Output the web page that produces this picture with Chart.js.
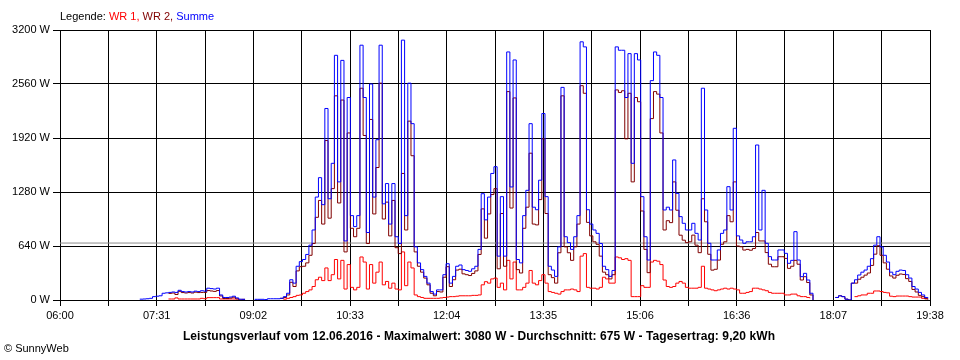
<!DOCTYPE html>
<html><head><meta charset="utf-8">
<script src="https://cdn.jsdelivr.net/npm/chart.js@4"></script>
<style>
html,body{margin:0;padding:0;background:#fff;}
#wrap{position:relative;width:960px;height:360px;overflow:hidden;}
canvas{position:absolute;left:0;top:0;}
.t{position:absolute;font-family:"Liberation Sans",Arial,sans-serif;font-size:11px;white-space:nowrap;line-height:13px;color:#000;}
</style></head><body>
<div id="wrap">
<canvas id="c" width="960" height="360"></canvas>
<div class="t" style="left:60px;top:10px">Legende: <span style="color:#ff0000">WR 1,</span> <span style="color:#800000">WR 2,</span> <span style="color:#0000ff">Summe</span></div>
<div class="t" style="left:0;width:958px;text-align:center;top:329px;font-size:12px;line-height:14px;letter-spacing:0.09px;font-weight:bold">Leistungsverlauf vom 12.06.2016 - Maximalwert: 3080 W - Durchschnitt: 675 W - Tagesertrag: 9,20 kWh</div>
<div class="t" style="left:4px;top:342px">© SunnyWeb</div>
</div>
<script>
// time axis: minutes after 06:00
const startMin = 75;   // first sample 07:15
const stepMin = 3;     // sample spacing in minutes
const axisMaxMin = 818; // 06:00 .. 19:38
const xTickLabels = ['06:00','07:31','09:02','10:33','12:04','13:35','15:06','16:36','18:07','19:38'];
const yTicks = [0,640,1280,1920,2560,3200];
const avgW = 675;

const summe = [
10,12,15,20,40,45,50,80,85,90,
95,90,115,100,95,100,95,105,100,110,
105,140,135,130,140,60,30,30,35,45,
25,10,8,8,null,null,8,8,8,5,
15,15,15,15,20,40,80,240,200,400,
455,480,540,650,830,1220,1450,1130,2270,1200,
1620,2900,1400,2840,700,2400,1000,870,1000,3020,
2400,800,2560,1220,1900,3020,1140,1380,900,1380,
750,670,3080,1000,2570,2090,630,440,360,280,
200,100,70,120,120,300,430,200,280,400,
415,360,350,340,370,400,600,1260,950,1220,
1500,1580,520,1225,520,2940,1340,2845,480,440,
1000,1300,2090,1100,1070,1420,2210,1225,400,355,
280,630,2520,750,680,600,750,1000,3060,3000,
1070,900,830,790,670,400,360,280,350,3000,
2960,2960,2400,2920,1620,2920,2845,1225,750,474,
2600,2940,2900,2400,1067,1100,1067,1660,1264,988,
909,830,830,909,790,711,2510,1067,672,474,
474,593,790,830,1343,1067,2035,760,711,672,
690,690,750,1837,830,1300,672,514,474,474,
593,593,553,435,470,810,474,277,316,237,
80,0,null,null,null,null,null,null,30,50,
40,10,0,200,240,296,330,355,400,490,
650,750,630,530,450,330,300,340,355,350,
300,260,160,130,90,60,30,20];

const wr1 = [
null,null,null,null,null,null,null,null,null,12,
12,25,12,12,12,12,12,12,12,20,
15,28,28,28,28,12,12,12,12,12,
12,8,null,null,null,null,null,null,null,null,
null,null,null,null,null,10,20,30,40,55,
60,80,100,120,160,240,270,230,380,230,
300,480,250,470,130,420,150,120,150,510,
450,130,420,200,330,450,180,220,140,200,
130,120,570,170,450,380,60,40,30,20,
20,20,20,20,25,30,35,40,40,45,
50,50,50,50,55,55,60,180,217,200,
250,260,150,200,120,470,250,450,120,120,
150,200,350,200,180,230,300,200,100,90,
80,70,100,120,120,130,120,100,520,550,
150,140,140,130,150,270,250,200,200,510,
500,480,490,470,40,40,40,170,150,150,
450,470,460,420,237,160,150,160,200,220,
200,150,140,140,140,150,400,140,130,120,
110,120,130,140,130,140,130,120,80,80,
90,100,140,140,130,120,110,90,80,80,
80,80,60,60,70,70,50,40,40,30,
20,null,null,null,null,null,null,null,null,null,
null,null,null,null,40,50,60,60,80,80,
107,107,100,90,85,45,40,47,47,47,
47,40,35,35,35,20,15,15];

const wr2 = [
null,null,null,null,null,null,null,null,null,78,
83,65,103,88,83,88,83,93,88,90,
90,112,107,102,112,48,18,18,23,33,
13,2,8,8,null,null,null,null,null,null,
null,null,null,null,20,30,60,210,160,345,
395,400,440,530,670,980,1180,900,1890,970,
1320,2420,1150,2370,570,1980,850,750,850,2510,
1950,670,2140,1020,1570,2570,960,1160,760,1180,
620,550,1500,830,2120,1710,570,400,330,260,
180,80,50,100,95,270,395,160,240,355,
365,310,300,290,315,345,540,1080,733,1020,
1250,1320,370,1025,400,2470,1090,2395,360,320,
850,1100,1740,900,890,1190,1910,1025,300,265,
200,560,2420,630,560,470,630,900,2540,2450,
920,760,690,660,520,330,300,250,300,2490,
2460,2480,1910,2450,1400,2400,2350,1055,600,324,
2150,2470,2440,1980,830,940,917,1400,1064,768,
709,680,690,769,650,561,1200,927,542,354,
364,473,660,690,1000,927,1400,640,631,592,
600,590,610,800,700,700,562,424,394,394,
513,513,493,375,400,470,424,237,276,207,
60,0,null,null,null,null,null,null,30,50,
40,10,0,200,200,246,270,295,320,410,
543,643,530,440,365,285,260,293,308,303,
253,220,125,95,55,40,15,5];

const pts = arr => arr.map((v,i)=>({x:startMin+i*stepMin, y:v}));
const lineDs = (label, arr, color) => ({
  label, data: pts(arr), borderColor: color, backgroundColor: color,
  borderWidth: 1, pointRadius: 0, stepped: true, spanGaps: false, fill: false
});

Chart.defaults.font.family = '"Liberation Sans", Arial, sans-serif';
Chart.defaults.font.size = 11;
Chart.defaults.color = '#000';

new Chart(document.getElementById('c'), {
  type: 'line',
  data: {
    datasets: [
      lineDs('Summe', summe, '#0000ff'),
      lineDs('WR 2', wr2, '#800000'),
      lineDs('WR 1', wr1, '#ff0000'),
      { label: 'Durchschnitt', data: [{x:0,y:avgW},{x:axisMaxMin,y:avgW}],
        borderColor: '#8c8c8c', borderWidth: 1, pointRadius: 0, fill: false }
    ]
  },
  options: {
    responsive: false, animation: false, devicePixelRatio: 1,
    layout: { padding: { left: 0, top: 30, right: 30, bottom: 0 } },
    plugins: { legend: { display: false }, tooltip: { enabled: false } },
    scales: {
      x: {
        type: 'linear', min: 0, max: axisMaxMin,
        afterBuildTicks: s => { s.ticks = Array.from({length: 19}, (_, i) => ({ value: i * axisMaxMin / 18 })); },
        afterFit: s => { s.height = 60; },
        grid: { color: '#000', lineWidth: 1, tickLength: 6, drawTicks: true },
        border: { color: '#000', width: 1 },
        ticks: { autoSkip: false, maxRotation: 0, padding: 3, color: '#000',
          callback: (v, i) => (i % 2 === 0 ? xTickLabels[i / 2] : '') }
      },
      y: {
        type: 'linear', min: 0, max: 3200,
        afterBuildTicks: s => { s.ticks = yTicks.map(v => ({ value: v })); },
        afterFit: s => { s.width = 60; },
        grid: { color: '#000', lineWidth: 1, tickLength: 7, drawTicks: true },
        border: { color: '#000', width: 1 },
        ticks: { padding: 3, color: '#000', callback: v => v + ' W' }
      }
    }
  }
});
</script>
</body></html>
